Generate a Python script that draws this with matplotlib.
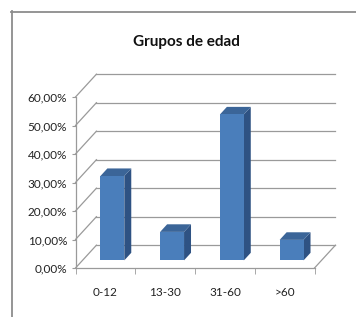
import matplotlib
matplotlib.use("Agg")
import matplotlib.pyplot as plt
from matplotlib.patches import Polygon, Rectangle
from matplotlib.lines import Line2D
from matplotlib.ticker import FuncFormatter, FixedLocator

categories = ["0-12", "13-30", "31-60", ">60"]
values = [0.296, 0.100, 0.512, 0.072]
yticks = [0.0, 0.1, 0.2, 0.3, 0.4, 0.5, 0.6]
title = "Grupos de edad"

FONT = ["Lato", "DejaVu Sans"]
plt.rcParams['font.family'] = FONT

W, H = 356, 317
fig = plt.figure(figsize=(W / 100, H / 100), dpi=100)
fig.patch.set_facecolor("white")

DX = 0.35   # depth offset in category units
DY = 0.08   # depth offset in value units
cat_px = 59.75
val_px = 285.0

left_px, front0_px = 75.5, 268
ax_w = (4 + DX) * cat_px
ax_h = (0.6 + DY) * val_px
ax = fig.add_axes([left_px / W, (H - front0_px) / H, ax_w / W, ax_h / H])
ax.set_xlim(0, 4 + DX)
ax.set_ylim(0, 0.6 + DY)
ax.patch.set_alpha(0)

grid_c = "#9a9a9a"
for s in ["top", "right"]:
    ax.spines[s].set_visible(False)
for s in ["left", "bottom"]:
    ax.spines[s].set_color(grid_c)
    ax.spines[s].set_linewidth(0.9)
ax.spines["left"].set_bounds(0, 0.6)
ax.spines["bottom"].set_bounds(0, 4)

ax.yaxis.set_major_locator(FixedLocator(yticks))
ax.yaxis.set_major_formatter(FuncFormatter(lambda v, p: f"{v*100:.2f}%".replace(".", ",")))
ax.tick_params(axis="y", direction="out", length=3, color=grid_c, labelsize=8.5,
               labelcolor="#222222", pad=3)

ax.xaxis.set_major_locator(FixedLocator([i + 0.5 for i in range(len(categories))]))
ax.set_xticklabels(categories)
ax.xaxis.set_minor_locator(FixedLocator(list(range(len(categories) + 1))))
ax.tick_params(axis="x", which="major", length=0, labelsize=8.5, labelcolor="#222222", pad=14)
ax.tick_params(axis="x", which="minor", direction="out", length=4, color=grid_c)

# back wall gridlines + side wall diagonals
for v in yticks:
    ax.plot([0, DX], [v, v + DY], color=grid_c, lw=0.9, zorder=1, clip_on=False)
    ax.plot([DX, 4 + DX], [v + DY, v + DY], color=grid_c, lw=0.9, zorder=1, clip_on=False)
# floor right edge
ax.plot([4, 4 + DX], [0, DY], color=grid_c, lw=0.9, zorder=1, clip_on=False)

# bars
front_c, side_c, top_c = "#4a7ebb", "#2e5283", "#3b6598"
bw = 0.4
f1 = 1 / 3
ddx, ddy = DX / 3, DY / 3
for i, v in enumerate(values):
    x0 = i + 0.5 - bw / 2 + f1 * DX
    y0 = f1 * DY
    ax.add_patch(Polygon([(x0 + bw, y0), (x0 + bw + ddx, y0 + ddy),
                          (x0 + bw + ddx, y0 + v + ddy), (x0 + bw, y0 + v)],
                         closed=True, fc=side_c, ec="none", zorder=3))
    ax.add_patch(Polygon([(x0, y0 + v), (x0 + bw, y0 + v),
                          (x0 + bw + ddx, y0 + v + ddy), (x0 + ddx, y0 + v + ddy)],
                         closed=True, fc=top_c, ec="none", zorder=3))
    ax.add_patch(Rectangle((x0, y0), bw, v, fc=front_c, ec="none", zorder=4))

# chart frame
frame_c = "#8c8c8c"
fig.add_artist(Line2D([11.5 / W, 11.5 / W], [0, 1 - 11 / H], color=frame_c, lw=1.3,
                      transform=fig.transFigure))
fig.add_artist(Line2D([11 / W, 1], [1 - 11.5 / H, 1 - 11.5 / H], color=frame_c, lw=1.3,
                      transform=fig.transFigure))

fig.text(186 / W, 1 - 42 / H, title, ha="center", va="center", fontsize=11,
         fontweight="bold", color="#111111")

fig.savefig("out.png", dpi=100, facecolor="white")
